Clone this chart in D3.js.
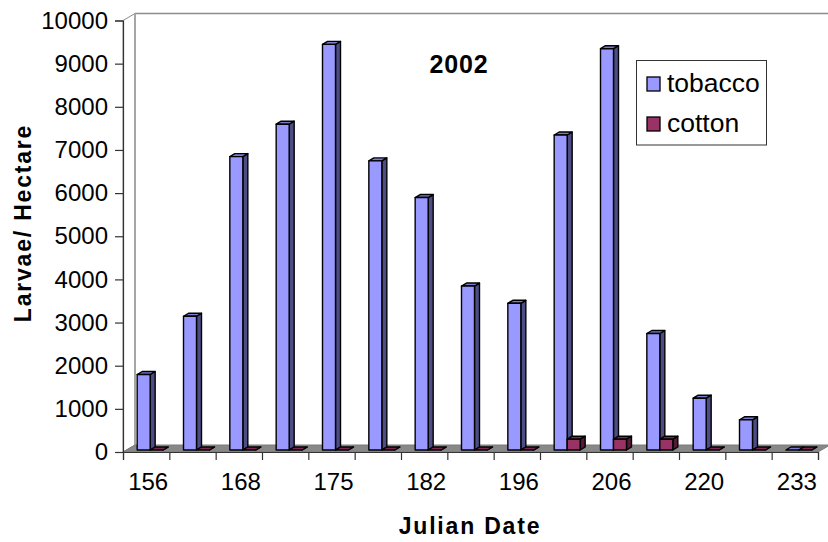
<!DOCTYPE html>
<html>
<head>
<meta charset="utf-8">
<script src="https://cdn.jsdelivr.net/npm/d3@7"></script>
<style>
  html, body { margin: 0; padding: 0; background: #ffffff; }
  svg { display: block; font-family: "Liberation Sans", Arial, sans-serif; }
</style>
</head>
<body>
<svg id="chart" width="828" height="542"></svg>
<script>
// Julian sampling dates (only every other date is labelled on the axis)
const dayLabels = ["156", "", "168", "", "175", "", "182", "", "196", "", "206", "", "220", "", "233"];
// Larvae per hectare
const tobacco = [1750, 3100, 6800, 7550, 9400, 6700, 5850, 3800, 3400, 7300, 9300, 2700, 1200, 700, 0];
const cotton  = [0, 0, 0, 0, 0, 0, 0, 0, 0, 250, 250, 250, 0, 0, 0];
const seriesNames = ["tobacco", "cotton"];
const yTicks = [0, 1000, 2000, 3000, 4000, 5000, 6000, 7000, 8000, 9000, 10000];

const series = [tobacco, cotton];
const palette = [
  { front: "#9999ff", top: "#7b7bd0", side: "#4d4d85" },
  { front: "#993366", top: "#7a2952", side: "#521b37" }
];

const svg = d3.select("#chart");

// plot frame (front plane) and oblique depth of the 3-D box
const left = 123, right = 818, bottom = 452, topY = 20.5;
const depth = { dx: 12, dy: -7 };

const x = d3.scaleBand().domain(d3.range(dayLabels.length)).range([left, right]).padding(0);
const y = d3.scaleLinear().domain([0, 10000]).range([bottom, topY]);

// walls and floor
const g = svg.append("g");
g.append("polygon")
  .attr("points", [[left + depth.dx, topY + depth.dy], [right + depth.dx + 20, topY + depth.dy],
                   [right + depth.dx + 20, bottom + depth.dy], [left + depth.dx, bottom + depth.dy]].join(" "))
  .attr("fill", "#ffffff");
g.append("line")
  .attr("x1", left + depth.dx).attr("y1", topY + depth.dy)
  .attr("x2", right + depth.dx).attr("y2", topY + depth.dy)
  .attr("stroke", "#8c8c8c").attr("stroke-width", 1.5);
g.append("polygon")
  .attr("points", [[left, bottom], [left, topY], [left + depth.dx, topY + depth.dy], [left + depth.dx, bottom + depth.dy]].join(" "))
  .attr("fill", "#ffffff").attr("stroke", "#8c8c8c").attr("stroke-width", 1);
g.append("line")
  .attr("x1", left + depth.dx).attr("y1", topY + depth.dy)
  .attr("x2", left + depth.dx).attr("y2", bottom + depth.dy)
  .attr("stroke", "#a6a6a6").attr("stroke-width", 2);
g.append("polygon")
  .attr("points", [[left, bottom], [right, bottom], [right + depth.dx, bottom + depth.dy], [left + depth.dx, bottom + depth.dy]].join(" "))
  .attr("fill", "#888888").attr("stroke", "#7a7a7a").attr("stroke-width", 1);

// 3-D columns
const barW = 13;
const groupW = barW * series.length;
const shift = { dx: 4, dy: -2 };     // columns sit a little behind the front plane
const bar3d = { dx: 5, dy: -3 };     // depth of each column

const bars = svg.append("g")
  .attr("stroke", "#000000").attr("stroke-width", 1.4).attr("stroke-linejoin", "round");

dayLabels.forEach((_, i) => {
  series.forEach((vals, s) => {
    const c = palette[s];
    const fx = x(i) + (x.bandwidth() - groupW) / 2 + s * barW + shift.dx;
    const yb = y(0) + shift.dy;
    const yt = y(vals[i]) + shift.dy;
    const b = bars.append("g");
    b.append("polygon")
      .attr("points", [[fx + barW, yt], [fx + barW + bar3d.dx, yt + bar3d.dy],
                       [fx + barW + bar3d.dx, yb + bar3d.dy], [fx + barW, yb]].join(" "))
      .attr("fill", c.side);
    b.append("polygon")
      .attr("points", [[fx, yt], [fx + barW, yt], [fx + barW + bar3d.dx, yt + bar3d.dy], [fx + bar3d.dx, yt + bar3d.dy]].join(" "))
      .attr("fill", c.top);
    if (yb - yt > 0.5) {
      b.append("rect")
        .attr("x", fx).attr("y", yt).attr("width", barW).attr("height", yb - yt)
        .attr("fill", c.front);
    }
  });
});

// value axis
const yAxis = svg.append("g")
  .attr("transform", `translate(${left},0)`)
  .call(d3.axisLeft(y).tickValues(yTicks).tickSize(8).tickPadding(7).tickFormat(d3.format("d")));
yAxis.select(".domain").attr("stroke", "#333333").attr("stroke-width", 1.2);
yAxis.selectAll(".tick line").attr("stroke", "#333333").attr("stroke-width", 1.2);
yAxis.selectAll(".tick text").attr("font-size", 24).attr("fill", "#000000")
  .attr("font-family", "'Liberation Sans', Arial, sans-serif");

// category axis: tick marks between dates, labels centred on each date
const edges = d3.scaleLinear().domain([0, dayLabels.length]).range([left, right]);
const xTicks = svg.append("g")
  .attr("transform", `translate(0,${bottom})`)
  .call(d3.axisBottom(edges).tickValues(d3.range(dayLabels.length + 1)).tickSize(8).tickFormat(""));
xTicks.select(".domain").attr("stroke", "#333333").attr("stroke-width", 1.2);
xTicks.selectAll(".tick line").attr("stroke", "#333333").attr("stroke-width", 1.2);

const xLabels = svg.append("g")
  .attr("transform", `translate(2,${bottom})`)
  .call(d3.axisBottom(x).tickSize(0).tickPadding(21).tickFormat(i => dayLabels[i]));
xLabels.select(".domain").remove();
xLabels.selectAll(".tick text").attr("font-size", 24).attr("fill", "#000000")
  .attr("font-family", "'Liberation Sans', Arial, sans-serif");

// titles
svg.append("text")
  .attr("x", 459).attr("y", 73).attr("text-anchor", "middle")
  .attr("font-size", 25).attr("font-weight", "bold").attr("letter-spacing", 0.8)
  .text("2002");

svg.append("text")
  .attr("x", 470).attr("y", 534).attr("text-anchor", "middle")
  .attr("font-size", 23).attr("font-weight", "bold").attr("letter-spacing", 1.8)
  .text("Julian Date");

svg.append("text")
  .attr("transform", "translate(31,223) rotate(-90)").attr("text-anchor", "middle")
  .attr("font-size", 23).attr("font-weight", "bold").attr("letter-spacing", 1.8)
  .text("Larvae/ Hectare");

// legend
const legend = svg.append("g");
legend.append("rect")
  .attr("x", 636.5).attr("y", 60.5).attr("width", 130).attr("height", 84.5)
  .attr("fill", "#ffffff").attr("stroke", "#333333").attr("stroke-width", 1);
seriesNames.forEach((name, s) => {
  const ly = 77 + s * 40;
  legend.append("rect")
    .attr("x", 647).attr("y", ly).attr("width", 13).attr("height", 14)
    .attr("fill", palette[s].front).attr("stroke", "#000000").attr("stroke-width", 1.3);
  legend.append("text")
    .attr("x", 667).attr("y", ly + 14.5)
    .attr("font-size", 26.5).attr("fill", "#000000")
    .text(name);
});
</script>
</body>
</html>
